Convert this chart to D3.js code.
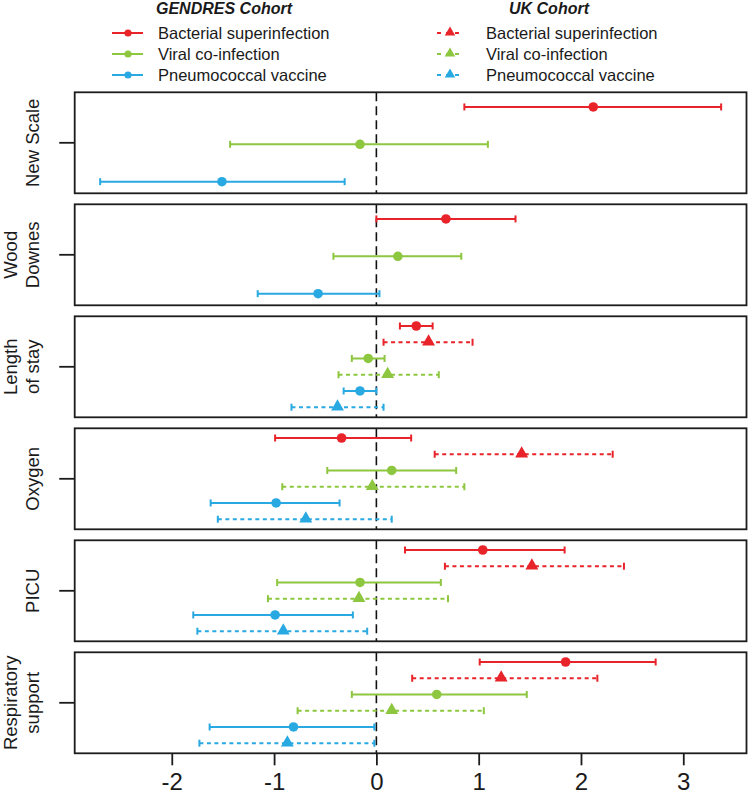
<!DOCTYPE html>
<html>
<head>
<meta charset="utf-8">
<script src="https://cdn.jsdelivr.net/npm/d3@7"></script>
<style>
  html, body { margin: 0; padding: 0; background: #fff; }
  svg { display: block; font-family: "Liberation Sans", Arial, Helvetica, sans-serif; }
</style>
</head>
<body>
<svg id="chart" width="748" height="811"></svg>
<script>
// ---------------- DATA ----------------
const outcomes = ["New Scale", "Wood Downes", "Length of stay", "Oxygen", "PICU", "Respiratory support"];
const outcomeLabelLines = [["New Scale"], ["Wood", "Downes"], ["Length", "of stay"], ["Oxygen"], ["PICU"], ["Respiratory", "support"]];
const factors = ["Bacterial superinfection", "Viral co-infection", "Pneumococcal vaccine"];
const cohorts = ["GENDRES Cohort", "UK Cohort"];
const xTicks = [-2, -1, 0, 1, 2, 3];

// GENDRES cohort (rows: outcomes; cols: factors)
const gendresEst = [[2.12, -0.16, -1.51], [0.68, 0.21, -0.57], [0.39, -0.08, -0.16], [-0.34, 0.15, -0.98], [1.04, -0.16, -0.99], [1.85, 0.59, -0.81]];
const gendresLo  = [[0.86, -1.43, -2.70], [0.00, -0.42, -1.16], [0.23, -0.24, -0.32], [-0.99, -0.48, -1.62], [0.28, -0.97, -1.79], [1.01, -0.24, -1.63]];
const gendresHi  = [[3.37, 1.09, -0.31], [1.36, 0.83, 0.03], [0.55, 0.08, 0.00], [0.34, 0.78, -0.36], [1.84, 0.63, -0.23], [2.73, 1.47, -0.02]];
// UK cohort (null = not available)
const ukEst = [null, null, [0.51, 0.11, -0.38], [1.42, -0.04, -0.69], [1.52, -0.17, -0.91], [1.22, 0.15, -0.87]];
const ukLo  = [null, null, [0.07, -0.37, -0.83], [0.57, -0.92, -1.55], [0.67, -1.06, -1.75], [0.35, -0.77, -1.73]];
const ukHi  = [null, null, [0.94, 0.61, 0.07], [2.31, 0.86, 0.15], [2.42, 0.70, -0.09], [2.16, 1.05, -0.02]];

const colors = ["#E8232A", "#8DC63F", "#29A9E1"];

// ---------------- LAYOUT ----------------
const svg = d3.select("#chart");
const panelLeft = 74.7, panelRight = 746.5;
const panelTop0 = 92.3, panelStep = 112.0, panelH = 101;

const x = d3.scaleLinear().domain([-2.949, 3.618]).range([panelLeft, panelRight]);
const panelY = d3.scaleLinear().domain([0, outcomes.length - 1])
  .range([panelTop0, panelTop0 + panelStep * (outcomes.length - 1)]);

const sym = d3.symbol();

outcomes.forEach((name, i) => {
  const top = panelY(i);
  const g = svg.append("g").attr("class", "panel");

  // build rows
  const rows = [];
  factors.forEach((f, j) => {
    rows.push({ est: gendresEst[i][j], lo: gendresLo[i][j], hi: gendresHi[i][j], color: colors[j], uk: false });
    if (ukEst[i]) rows.push({ est: ukEst[i][j], lo: ukLo[i][j], hi: ukHi[i][j], color: colors[j], uk: true });
  });
  const n = rows.length;
  const f0 = n > 3 ? 0.096 : 0.145, f1 = n > 3 ? 0.90 : 0.885;
  const y = d3.scaleLinear().domain([0, n - 1]).range([top + f0 * panelH, top + f1 * panelH]);

  // zero reference line
  g.append("line")
    .attr("x1", x(0)).attr("x2", x(0))
    .attr("y1", top).attr("y2", top + panelH)
    .attr("stroke", "#111").attr("stroke-width", 1.6)
    .attr("stroke-dasharray", "9,5");

  rows.forEach((r, k) => {
    const yy = y(k);
    const rg = g.append("g");
    rg.append("line")
      .attr("x1", x(r.lo)).attr("x2", x(r.hi))
      .attr("y1", yy).attr("y2", yy)
      .attr("stroke", r.color).attr("stroke-width", 2)
      .attr("stroke-dasharray", r.uk ? "4,3.5" : null);
    [r.lo, r.hi].forEach(v => {
      rg.append("line")
        .attr("x1", x(v)).attr("x2", x(v))
        .attr("y1", yy - 3.5).attr("y2", yy + 3.5)
        .attr("stroke", r.color).attr("stroke-width", 2);
    });
    if (r.uk) {
      rg.append("path")
        .attr("d", sym.type(d3.symbolTriangle).size(72)())
        .attr("transform", `translate(${x(r.est)},${yy - 0.5})`)
        .attr("fill", r.color);
    } else {
      rg.append("circle")
        .attr("cx", x(r.est)).attr("cy", yy).attr("r", 4.8)
        .attr("fill", r.color);
    }
  });

  // frame
  g.append("rect")
    .attr("x", panelLeft).attr("y", top)
    .attr("width", panelRight - panelLeft).attr("height", panelH)
    .attr("fill", "none").attr("stroke", "#1c1c1c").attr("stroke-width", 1.8);

  // y tick
  const mid = top + panelH / 2;
  g.append("line")
    .attr("x1", panelLeft - 15.5).attr("x2", panelLeft)
    .attr("y1", mid).attr("y2", mid)
    .attr("stroke", "#1c1c1c").attr("stroke-width", 1.8);

  // y label (rotated)
  const lines = outcomeLabelLines[i];
  lines.forEach((txt, li) => {
    const baseX = 39 - (lines.length - 1 - li) * 22;
    g.append("text")
      .attr("transform", `translate(${baseX},${mid}) rotate(-90)`)
      .attr("text-anchor", "middle")
      .attr("font-size", 18.5)
      .attr("fill", "#1a1a1a")
      .text(txt);
  });
});

// x axis below last panel
const axisY = panelY(outcomes.length - 1) + panelH;
const xAxis = svg.append("g")
  .attr("transform", `translate(0,${axisY})`)
  .call(d3.axisBottom(x).tickValues(xTicks).tickSize(12).tickPadding(8).tickFormat(d3.format("d")));
xAxis.select(".domain").remove();
xAxis.selectAll(".tick line").attr("stroke", "#1c1c1c").attr("stroke-width", 1.8);
xAxis.selectAll(".tick text")
  .attr("font-size", 24)
  .attr("font-family", "'Liberation Sans', Arial, sans-serif")
  .attr("fill", "#1a1a1a")
  .text(d => d < 0 ? "-" + Math.abs(d) : d);

// ---------------- LEGEND ----------------
const legend = svg.append("g");
const legendRowsY = [33, 54, 75];
const legendCfg = [
  { title: cohorts[0], titleX: 224, lineX1: 112, lineX2: 143, markX: 128, textX: 158, uk: false },
  { title: cohorts[1], titleX: 549, lineX1: 437, lineX2: 464, markX: 450, textX: 486, uk: true }
];
legendCfg.forEach(c => {
  legend.append("text")
    .attr("x", c.titleX).attr("y", 14)
    .attr("text-anchor", "middle")
    .attr("font-size", 16).attr("font-weight", "bold").attr("font-style", "italic")
    .attr("fill", "#1a1a1a")
    .text(c.title);
  factors.forEach((f, j) => {
    const yy = legendRowsY[j];
    legend.append("line")
      .attr("x1", c.lineX1).attr("x2", c.lineX2)
      .attr("y1", yy).attr("y2", yy)
      .attr("stroke", colors[j]).attr("stroke-width", 2)
      .attr("stroke-dasharray", c.uk ? "4,5" : null);
    if (c.uk) {
      legend.append("path")
        .attr("d", sym.type(d3.symbolTriangle).size(48)())
        .attr("transform", `translate(${c.markX},${yy - 0.5})`)
        .attr("fill", colors[j]);
    } else {
      legend.append("circle")
        .attr("cx", c.markX).attr("cy", yy).attr("r", 3.6)
        .attr("fill", colors[j]);
    }
    legend.append("text")
      .attr("x", c.textX).attr("y", yy)
      .attr("dy", "0.35em")
      .attr("font-size", 16.5)
      .attr("fill", "#1a1a1a")
      .text(f);
  });
});
</script>
</body>
</html>
